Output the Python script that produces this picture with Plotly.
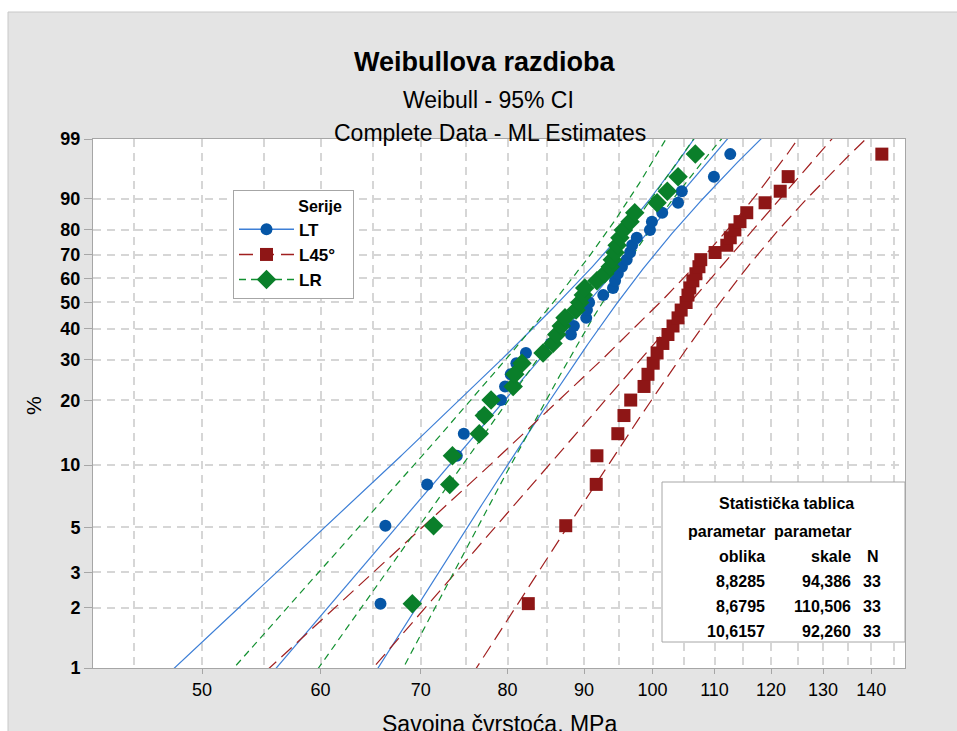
import numpy as np
import plotly.graph_objects as go

# Savojna čvrstoća (MPa), sorted ascending, 33 specimens per series
lt_values = [65.8, 66.3, 70.7, 74.0, 74.8, 77.0, 79.2, 79.7, 80.4, 81.1, 82.3,
             85.5, 88.2, 88.6, 90.3, 90.4, 90.7, 92.7, 94.1, 94.4, 94.8, 95.4,
             96.1, 96.6, 96.9, 97.6, 99.6, 99.9, 101.5, 104.0, 104.6, 109.9, 112.7]
l45_values = [82.6, 87.5, 91.7, 91.8, 94.8, 95.7, 96.7, 98.7, 99.3, 100.1, 100.7,
              101.6, 102.4, 103.2, 104.0, 104.5, 105.3, 105.6, 105.9, 106.4, 106.9,
              107.4, 107.7, 110.1, 112.1, 112.7, 113.5, 114.4, 115.6, 118.9, 121.7,
              123.2, 142.3]
lr_values = [69.1, 71.4, 73.2, 73.5, 76.6, 77.2, 78.0, 80.7, 80.9, 81.8, 84.5,
             85.8, 86.3, 86.9, 87.4, 88.9, 89.4, 89.9, 90.1, 91.8, 92.9, 93.7,
             94.0, 94.4, 94.7, 95.1, 95.6, 96.6, 97.3, 100.7, 102.3, 104.0, 106.8]

series_names = ["LT", "L45°", "LR"]
shape_params = [8.8285, 8.6795, 10.6157]    # parametar oblika
scale_params = [94.386, 110.506, 92.260]    # parametar skale
n_obs = [33, 33, 33]

prob_ticks = [1, 2, 3, 5, 10, 20, 30, 40, 50, 60, 70, 80, 90, 99]
x_ticks = [50, 60, 70, 80, 90, 100, 110, 120, 130, 140]
x_minor = [45, 55, 65, 75, 85, 95, 105, 115, 125, 135, 145]

marker_colors = ["#0656a6", "#8e1616", "#0a7f2a"]
line_colors = ["#3d7fd6", "#a01f1f", "#129030"]
line_dashes = ["solid", "14px,7px", "7px,5px"]
marker_symbols = ["circle", "square", "diamond"]
marker_sizes = [12, 13, 15]

FONT = "Liberation Sans Narrow, Arial Narrow, Liberation Sans, Arial, sans-serif"

W, H = 957, 731
L, R, T, B = 93, 905, 139, 668


def px_x(px):
    return (px - L) / (R - L)


def px_y(py):
    return (B - py) / (B - T)


def wscale(p_percent):
    """Weibull probability scale: ln(-ln(1 - p))."""
    p = np.asarray(p_percent, dtype=float) / 100.0
    return np.log(-np.log(1.0 - p))


# Fisher information (per observation, times sigma^2) for log-Weibull (SEV)
euler = 0.5772156649
fisher = np.array([[1.0, 1.0 - euler],
                   [1.0 - euler, np.pi ** 2 / 6 + (1.0 - euler) ** 2]])
fisher_inv = np.linalg.inv(fisher)
z975 = 1.959964

fig = go.Figure()

w_grid = np.linspace(wscale(0.5), wscale(99.9), 300)
for name, k, lam, n, lc, dash in zip(series_names, shape_params, scale_params,
                                      n_obs, line_colors, line_dashes):
    mu, sigma = np.log(lam), 1.0 / k
    yp = mu + sigma * w_grid
    var = sigma ** 2 / n * (fisher_inv[0, 0] + 2 * fisher_inv[0, 1] * w_grid
                            + fisher_inv[1, 1] * w_grid ** 2)
    sd = np.sqrt(var)
    for curve in (np.exp(yp - z975 * sd), np.exp(yp), np.exp(yp + z975 * sd)):
        fig.add_trace(go.Scatter(
            x=curve, y=w_grid, mode="lines", showlegend=False, hoverinfo="skip",
            line=dict(color=lc, width=1.2, dash=dash)))

for name, vals, mc, sym, ms in zip(series_names, [lt_values, l45_values, lr_values],
                                   marker_colors, marker_symbols, marker_sizes):
    v = np.sort(np.asarray(vals, dtype=float))
    n = len(v)
    ranks = np.arange(1, n + 1)
    pos = (ranks - 0.3) / (n + 0.4) * 100.0   # median ranks
    fig.add_trace(go.Scatter(
        x=v, y=wscale(pos), mode="markers", showlegend=False, name=name,
        marker=dict(symbol=sym, size=ms, color=mc, line=dict(width=0))))

# legend entries (line + symbol)
for name, mc, lc, dash, sym, ms in zip(series_names, marker_colors, line_colors,
                                       line_dashes, marker_symbols, marker_sizes):
    fig.add_trace(go.Scatter(
        x=[None], y=[None], mode="lines+markers", name="<b>%s</b>" % name,
        line=dict(color=lc, width=1.5, dash=dash),
        marker=dict(symbol=sym, size=ms, color=mc)))

shapes = [
    # white strips outside the graph window
    dict(type="rect", xref="paper", yref="paper", x0=px_x(0), x1=px_x(W),
         y0=px_y(0), y1=px_y(12), fillcolor="white", line=dict(width=0), layer="below"),
    dict(type="rect", xref="paper", yref="paper", x0=px_x(0), x1=px_x(8),
         y0=px_y(0), y1=px_y(H), fillcolor="white", line=dict(width=0), layer="below"),
    dict(type="line", xref="paper", yref="paper", x0=px_x(8), x1=px_x(W),
         y0=px_y(12), y1=px_y(12), line=dict(color="#c8c8c8", width=1)),
    dict(type="line", xref="paper", yref="paper", x0=px_x(8), x1=px_x(8),
         y0=px_y(12), y1=px_y(H), line=dict(color="#c8c8c8", width=1)),
    # statistics table box
    dict(type="rect", xref="paper", yref="paper", x0=px_x(662), x1=px_x(905),
         y0=px_y(642), y1=px_y(482), fillcolor="white",
         line=dict(color="#a6a6a6", width=1), layer="above"),
]

annotations = [
    dict(text="<b>Weibullova razdioba</b>", x=px_x(485), y=px_y(62), font=dict(size=27)),
    dict(text="Weibull - 95% CI", x=px_x(488), y=px_y(100), font=dict(size=23)),
    dict(text="Complete Data - ML Estimates", x=px_x(490), y=px_y(133), font=dict(size=23)),
    dict(text="%", x=px_x(33), y=px_y(405), textangle=-90, font=dict(size=21)),
    dict(text="Savojna čvrstoća, MPa", x=px_x(499), y=px_y(709), yanchor="top",
         font=dict(size=23)),
    dict(text="<b>Statistička tablica</b>", x=px_x(786), y=px_y(504), font=dict(size=16)),
    dict(text="<b>parametar</b>", x=px_x(686), y=px_y(531), xanchor="left", font=dict(size=16)),
    dict(text="<b>parametar</b>", x=px_x(772), y=px_y(531), xanchor="left", font=dict(size=16)),
    dict(text="<b>oblika</b>", x=px_x(767), y=px_y(556), xanchor="right", font=dict(size=16)),
    dict(text="<b>skale</b>", x=px_x(853), y=px_y(556), xanchor="right", font=dict(size=16)),
    dict(text="<b>N</b>", x=px_x(881), y=px_y(556), xanchor="right", font=dict(size=16)),
]
for i, (k, lam, n) in enumerate(zip(shape_params, scale_params, n_obs)):
    yy = 581 + 25 * i
    annotations += [
        dict(text="<b>%s</b>" % f"{k:.4f}".replace(".", ","), x=px_x(767), y=px_y(yy),
             xanchor="right", font=dict(size=16)),
        dict(text="<b>%s</b>" % f"{lam:.3f}".replace(".", ","), x=px_x(853), y=px_y(yy),
             xanchor="right", font=dict(size=16)),
        dict(text="<b>%d</b>" % n, x=px_x(883), y=px_y(yy), xanchor="right",
             font=dict(size=16)),
    ]
for a in annotations:
    a.setdefault("xref", "paper")
    a.setdefault("yref", "paper")
    a.setdefault("showarrow", False)
    a.setdefault("xanchor", "center")
    a.setdefault("yanchor", "middle")
    a["font"] = dict(family=FONT, color="black", **a["font"])

x_left = 50 * np.exp((L - 202) / 650)
x_right = 50 * np.exp((R - 202) / 650)

fig.update_layout(
    width=W, height=H,
    margin=dict(l=L, r=W - R, t=T, b=H - B, pad=0),
    paper_bgcolor="#e4e4e4",
    plot_bgcolor="white",
    font=dict(family=FONT, color="black"),
    shapes=shapes,
    annotations=annotations,
    showlegend=True,
    legend=dict(
        x=px_x(233), y=px_y(190), xanchor="left", yanchor="top",
        bgcolor="white", bordercolor="#a6a6a6", borderwidth=1,
        font=dict(family=FONT, size=17, color="black"),
        title=dict(text="\u00a0" * 14 + "<b>Serije</b>" + "\u00a0" * 2,
                   font=dict(family=FONT, size=16, color="black")),
        itemwidth=55, tracegroupgap=0,
    ),
    xaxis=dict(
        type="log", range=[np.log10(x_left), np.log10(x_right)],
        tickmode="array", tickvals=x_ticks, ticktext=[str(t) for t in x_ticks],
        ticks="outside", ticklen=5, tickcolor="#a6a6a6",
        tickfont=dict(family=FONT, size=18, color="black"),
        showgrid=True, gridcolor="#d6d6d6", gridwidth=2, griddash="8px,6px",
        minor=dict(tickmode="array", tickvals=x_minor, showgrid=True,
                   gridcolor="#d6d6d6", gridwidth=2, griddash="8px,6px", ticks=""),
        showline=True, linecolor="#a6a6a6", linewidth=1, mirror=True,
        zeroline=False,
    ),
    yaxis=dict(
        range=[float(wscale(1)), float(wscale(99))],
        tickmode="array", tickvals=list(wscale(prob_ticks)),
        ticktext=["<b>%d</b>" % p for p in prob_ticks],
        ticks="outside", ticklen=8, tickcolor="#a6a6a6",
        tickfont=dict(family=FONT, size=18, color="black"),
        showgrid=True, gridcolor="#d6d6d6", gridwidth=2, griddash="8px,6px",
        showline=True, linecolor="#a6a6a6", linewidth=1, mirror=True,
        zeroline=False,
    ),
)

fig.write_html("out.html")
